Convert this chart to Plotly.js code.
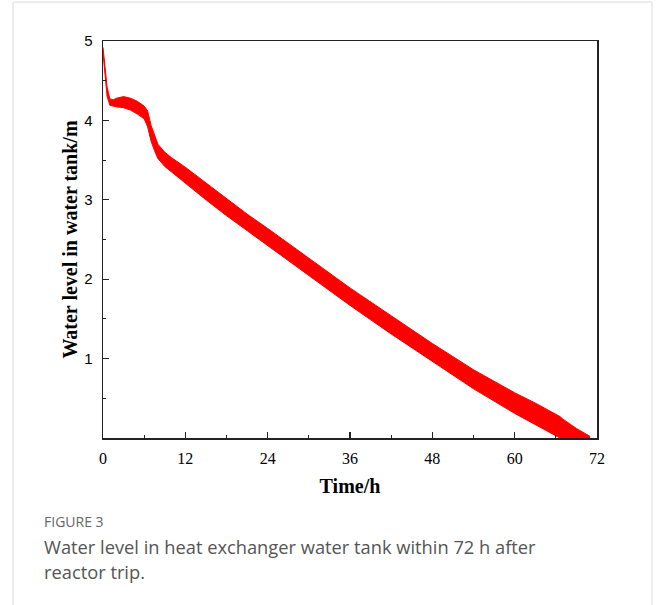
<!DOCTYPE html>
<html>
<head>
<meta charset="utf-8">
<script src="https://cdn.plot.ly/plotly-3.0.1.min.js"></script>
<style>
  html, body { margin: 0; padding: 0; background: #fff; }
  #chart { width: 656px; height: 605px; }
</style>
</head>
<body>
<div id="chart"></div>
<script>
// Time (h) at which the band edges were read
const timeH = [0, 0.3, 0.6, 1.0, 1.5, 2, 3, 4, 5, 6, 6.5, 7, 7.5, 8, 9, 10, 12, 15, 18, 21, 24, 30, 36, 42, 48, 54, 60, 63, 66, 66.6, 67, 69, 71];
// Lower edge of the oscillating water-level band (m)
const levelLow = [4.85, 4.55, 4.30, 4.19, 4.18, 4.17, 4.16, 4.13, 4.08, 4.02, 3.92, 3.74, 3.62, 3.52, 3.42, 3.35, 3.20, 3.00, 2.80, 2.61, 2.42, 2.04, 1.67, 1.31, 0.96, 0.62, 0.31, 0.17, 0.03, 0.0, 0.0, 0.0, 0.0];
// Upper edge of the oscillating water-level band (m)
const levelHigh = [4.92, 4.65, 4.42, 4.27, 4.26, 4.28, 4.30, 4.28, 4.24, 4.18, 4.12, 3.94, 3.82, 3.70, 3.60, 3.53, 3.41, 3.21, 3.01, 2.82, 2.64, 2.26, 1.89, 1.54, 1.19, 0.86, 0.57, 0.44, 0.30, 0.27, 0.24, 0.12, 0.02];

const xTicks = [0, 12, 24, 36, 48, 60, 72];
const xMinor = [6, 18, 30, 42, 54, 66];
const yTicks = [1, 2, 3, 4, 5];
const yMinor = [0.5, 1.5, 2.5, 3.5, 4.5];

const xTitle = 'Time/h';
const yTitle = 'Water level in water tank/m';
const figLabel = 'FIGURE 3';
const captionLines = ['Water level in heat exchanger water tank within 72 h after', 'reactor trip.'];

const traces = [
  { x: timeH, y: levelLow, type: 'scatter', mode: 'lines',
    line: { color: '#ff0000', width: 1 }, hoverinfo: 'skip', showlegend: false },
  { x: timeH, y: levelHigh, type: 'scatter', mode: 'lines', fill: 'tonexty',
    fillcolor: '#ff0000', line: { color: '#ff0000', width: 1 }, showlegend: false }
];

// plot area: px x 103..597, y 41..438.5
const L = 103, R = 597, T = 41, B = 438.5;
const px = (v) => (v - L) / (R - L);
const py = (v) => (B - v) / (B - T);

const serif = 'Liberation Serif, Times New Roman, serif';
const sans = 'Liberation Sans, Arial, sans-serif';
const capFont = 'Open Sans, Lato, sans-serif';

const layout = {
  width: 656, height: 605,
  margin: { l: L, r: 656 - R, t: T, b: 605 - B, pad: 0 },
  paper_bgcolor: '#ffffff', plot_bgcolor: '#ffffff',
  showlegend: false,
  xaxis: {
    range: [0, 72], tickmode: 'array', tickvals: xTicks,
    ticks: 'inside', ticklen: 6, tickwidth: 1.3, tickcolor: '#222',
    minor: { tickmode: 'array', tickvals: xMinor, ticks: 'inside', ticklen: 3, tickwidth: 1.2, tickcolor: '#222' },
    showline: true, linecolor: '#222', linewidth: 1.5, mirror: true,
    showgrid: false, zeroline: false,
    ticklabelstandoff: 5,
    tickfont: { family: serif, size: 16, color: '#000' },
    title: { text: xTitle, font: { family: serif, size: 20, color: '#000', weight: 'bold' }, standoff: 13 }
  },
  yaxis: {
    range: [0, 5], tickmode: 'array', tickvals: yTicks,
    ticks: 'inside', ticklen: 6, tickwidth: 1.3, tickcolor: '#222',
    minor: { tickmode: 'array', tickvals: yMinor, ticks: 'inside', ticklen: 3, tickwidth: 1.2, tickcolor: '#222' },
    showline: true, linecolor: '#222', linewidth: 1.5, mirror: true,
    showgrid: false, zeroline: false,
    ticklabelstandoff: 6,
    tickfont: { family: sans, size: 15, color: '#000' },
    title: { text: yTitle, font: { family: serif, size: 20, color: '#000', weight: 'bold' }, standoff: 1 }
  },
  shapes: [
    { type: 'rect', xref: 'paper', yref: 'paper',
      x0: px(13), x1: px(652), y0: py(700), y1: py(2),
      line: { color: '#d9d9d9', width: 1 }, fillcolor: 'rgba(0,0,0,0)', layer: 'below' }
  ],
  annotations: [
    { xref: 'paper', yref: 'paper', x: px(42), y: py(522), xanchor: 'left', yanchor: 'middle',
      text: figLabel, showarrow: false, font: { family: capFont, size: 14, color: '#666' } },
    { xref: 'paper', yref: 'paper', x: px(42), y: py(547), xanchor: 'left', yanchor: 'middle',
      text: captionLines[0], showarrow: false, font: { family: capFont, size: 18.3, color: '#555' } },
    { xref: 'paper', yref: 'paper', x: px(42), y: py(572), xanchor: 'left', yanchor: 'middle',
      text: captionLines[1], showarrow: false, font: { family: capFont, size: 18.3, color: '#555' } }
  ]
};

Plotly.newPlot('chart', traces, layout, { displayModeBar: false, staticPlot: true });
</script>
</body>
</html>
